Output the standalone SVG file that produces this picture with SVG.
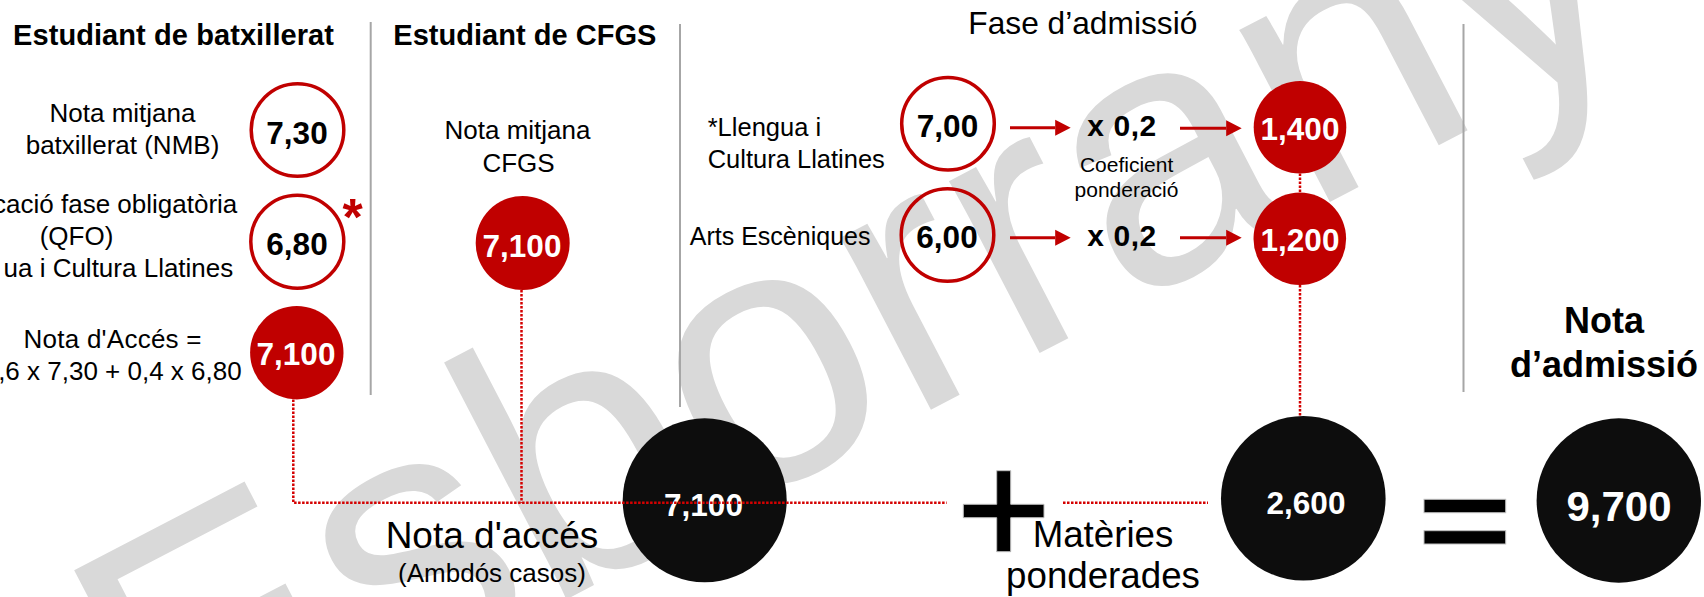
<svg xmlns="http://www.w3.org/2000/svg" width="1704" height="597" viewBox="0 0 1704 597">
<defs>
<style>
text{font-family:"Liberation Sans",Arial,sans-serif;fill:#000}
.t{font-size:26px}
.b{font-weight:bold}
.m{text-anchor:middle}
.e{text-anchor:end}
.num{font-size:31.5px;font-weight:bold;text-anchor:middle}
.w{fill:#fff}
.ring{fill:none;stroke:#c00000;stroke-width:3.5}
.red{fill:#c00000}
.blk{fill:#0d0d0d}
.div{stroke:#a6a6a6;stroke-width:2}
.dot{fill:none;stroke:#d40000;stroke-width:2.5;stroke-dasharray:2.5 1.5}
.arr{stroke:#c00000;stroke-width:3}
.op{fill:#000;stroke:#bfbfbf;stroke-width:1}
.wm{font-family:"Liberation Sans",Arial,sans-serif;font-size:368px;fill:#d9d9d9}
</style>
<marker id="ah" markerUnits="userSpaceOnUse" markerWidth="16" markerHeight="17" viewBox="0 -8.5 16 17" refX="0" refY="0" orient="auto"><path d="M0,-8 L15.5,0 L0,8 z" fill="#c00000"/></marker>
</defs>
<rect width="1704" height="597" fill="#fff"/>
<text class="wm" x="164.3" y="808.8" transform="rotate(-27.5 164.3 808.8)">Esborrany</text>
<g id="dividers">
<line class="div" x1="370.7" y1="22" x2="370.7" y2="395"/>
<line class="div" x1="680" y1="24" x2="680" y2="407"/>
<line class="div" x1="1463.5" y1="24" x2="1463.5" y2="392"/>
</g>
<g id="headers">
<text class="b" x="13" y="45" font-size="29" textLength="321">Estudiant de batxillerat</text>
<text class="b" x="393.3" y="45" font-size="29" textLength="263">Estudiant de CFGS</text>
<text x="968.3" y="34" font-size="31.7" textLength="229">Fase d’admissió</text>
<text class="b m" x="1604" y="332.5" font-size="36">Nota</text>
<text class="b m" x="1604" y="376.7" font-size="36">d’admissió</text>
</g>
<g id="nmb">
<text class="t m" x="122.5" y="121.7">Nota mitjana</text>
<text class="t m" x="122.5" y="154">batxillerat (NMB)</text>
<circle class="ring" cx="297.5" cy="130" r="46.3"/>
<text class="num" x="297" y="144">7,30</text>
</g>
<g id="qfo">
<text class="t e" x="237.3" y="213.3">cació fase obligatòria</text>
<text class="t m" x="76.5" y="244.5">(QFO)</text>
<text class="t e" x="233.3" y="276.7">ua i Cultura Llatines</text>
<circle class="ring" cx="297.3" cy="241.7" r="46.5"/>
<text class="num" x="297" y="255">6,80</text>
<text class="b m" x="352.5" y="235" font-size="52" style="fill:#c00000">*</text>
</g>
<g id="acces-batx">
<text class="t m" x="112.5" y="348.3" textLength="178">Nota d'Accés =</text>
<text class="t e" x="241.7" y="380">,6 x 7,30 + 0,4 x 6,80</text>
<circle class="red" cx="296.8" cy="352.7" r="46.7"/>
<text class="num w" x="296" y="365">7,100</text>
</g>
<g id="cfgs">
<text class="t m" x="517.5" y="139.3">Nota mitjana</text>
<text class="t m" x="518.5" y="171.7">CFGS</text>
<circle class="red" cx="522.7" cy="243" r="47"/>
<text class="num w" x="522" y="256.7">7,100</text>
</g>
<g id="llatines">
<text x="707.7" y="136" font-size="25.5">*Llengua i</text>
<text x="707.7" y="167.7" font-size="25.5">Cultura Llatines</text>
<circle class="ring" cx="948" cy="123.8" r="46.3"/>
<text class="num" x="947.5" y="136.7">7,00</text>
<text class="b" x="1087.3" y="136" font-size="30" textLength="69">x 0,2</text>
<circle class="red" cx="1300" cy="127.2" r="46.3"/>
<text class="num w" x="1300" y="140">1,400</text>
</g>
<g id="coef">
<text class="m" x="1126.6" y="171.7" font-size="21">Coeficient</text>
<text class="m" x="1126.5" y="196.7" font-size="21">ponderació</text>
</g>
<g id="arts">
<text x="689.8" y="245" font-size="25">Arts Escèniques</text>
<circle class="ring" cx="947.5" cy="235" r="46.3"/>
<text class="num" x="947" y="247.5">6,00</text>
<text class="b" x="1087.3" y="246" font-size="30" textLength="69">x 0,2</text>
<circle class="red" cx="1299.8" cy="238.7" r="46.3"/>
<text class="num w" x="1300" y="250.7">1,200</text>
</g>
<g id="nota-acces">
<circle class="blk" cx="704.7" cy="500.3" r="82"/>
<text class="num w" x="703.5" y="516">7,100</text>
<text class="m" x="492" y="548" font-size="37">Nota d'accés</text>
<text class="t m" x="492" y="581.7">(Ambdós casos)</text>
</g>
<g id="plus">
<path class="op" d="M996.7,470.7 H1010.7 V504.3 H1044 V517.7 H1010.7 V551.7 H996.7 V517.7 H963.3 V504.3 H996.7 Z"/>
</g>
<g id="materies">
<circle class="blk" cx="1303.3" cy="498.3" r="82.3"/>
<text class="num w" x="1306" y="514.3">2,600</text>
<text class="m" x="1103" y="546.7" font-size="36.7">Matèries</text>
<text class="m" x="1103" y="588" font-size="36.7">ponderades</text>
</g>
<g id="equals">
<rect class="op" x="1424" y="499.3" width="81.7" height="13.4"/>
<rect class="op" x="1424" y="530.7" width="81.7" height="13.3"/>
</g>
<g id="nota-admissio">
<circle class="blk" cx="1618.8" cy="500.5" r="82.2"/>
<text class="b m w" x="1619" y="520.5" font-size="42">9,700</text>
</g>
<g id="connectors">
<polyline class="dot" points="293.3,399.5 293.3,502.7 946.7,502.7"/>
<line class="dot" x1="521.5" y1="290" x2="521.5" y2="502.7"/>
<line class="dot" x1="1063" y1="502.7" x2="1208" y2="502.7"/>
<line class="dot" x1="1300" y1="173.5" x2="1300" y2="192.5"/>
<line class="dot" x1="1300" y1="285" x2="1300" y2="416.5"/>
<line class="arr" x1="1010" y1="127.7" x2="1055.2" y2="127.7" marker-end="url(#ah)"/>
<line class="arr" x1="1180" y1="128.3" x2="1226.2" y2="128.3" marker-end="url(#ah)"/>
<line class="arr" x1="1010" y1="237.7" x2="1055.2" y2="237.7" marker-end="url(#ah)"/>
<line class="arr" x1="1180" y1="237.7" x2="1226.2" y2="237.7" marker-end="url(#ah)"/>
</g>
</svg>
